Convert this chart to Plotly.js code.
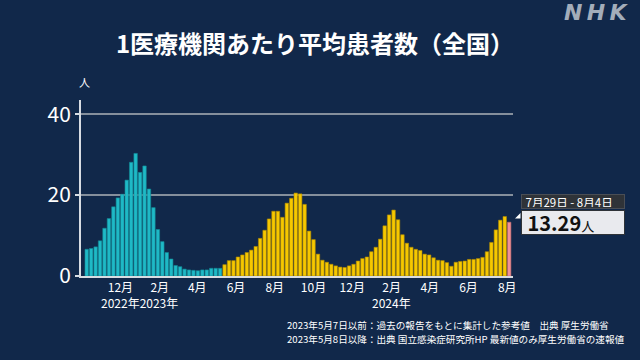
<!DOCTYPE html>
<html>
<head>
<meta charset="utf-8">
<script src="https://cdn.plot.ly/plotly-3.0.1.min.js"></script>
<style>html,body{margin:0;padding:0;background:#11284a;}#chart{width:640px;height:360px;}</style>
</head>
<body>
<div id="chart"></div>
<script>
// Week-ending dates: first week ends 2022-10-09, weekly to 2024-08-04
const firstWeekEnd = '2022-10-09';
const weekCount = 96;

// 2023-05-07 and before: reference values (cyan)
const refValues = [6.6, 6.8, 7.2, 8.7, 11.8, 14.2, 17.1, 19.3, 20.2, 23.7, 28.1, 30.3, 25.6, 27.2, 21.5, 16.9,
  11.5, 8.5, 5.8, 4.2, 2.6, 2.3, 1.7, 1.5, 1.4, 1.3, 1.5, 1.5, 1.9, 1.9, 1.9];
// 2023-05-08 and after (yellow)
const sentinelValues = [2.8, 3.8, 3.8, 4.7, 5.2, 5.8, 6.4, 7.3, 9.3, 11.3, 14.1, 16.0, 16.0, 14.5, 18.0, 19.2,
  20.5, 20.3, 17.7, 11.1, 9.0, 5.4, 3.9, 3.4, 2.9, 2.5, 2.2, 2.1, 2.5, 2.9, 3.7, 4.3,
  4.7, 6.0, 7.1, 9.1, 12.4, 15.1, 16.3, 13.9, 10.2, 8.1, 7.1, 6.6, 6.3, 5.4, 5.2, 4.5,
  3.9, 3.8, 3.3, 2.4, 3.4, 3.6, 3.7, 4.1, 4.1, 4.3, 4.6, 6.0, 8.3, 11.4, 13.8, 14.7];
// Latest week (pink)
const latestValue = [13.29];
const latestLabel = '7月29日 - 8月4日';

const tickDates = ['2022-12-01','2023-02-01','2023-04-01','2023-06-01','2023-08-01','2023-10-01','2023-12-01',
  '2024-02-01','2024-04-01','2024-06-01','2024-08-01'];
const tickLabels = ['12月','2月','4月','6月','8月','10月','12月','2月','4月','6月','8月'];
const yearLabels = ['2022年2023年','2024年'];

const dates = [];
{
  const d0 = new Date(firstWeekEnd + 'T00:00:00Z');
  for (let i = 0; i < weekCount; i++) {
    const d = new Date(d0.getTime() + i * 7 * 86400000);
    dates.push(d.toISOString().slice(0, 10));
  }
}
const values = refValues.concat(sentinelValues, latestValue);
const colors = [], lines = [];
values.forEach((v, i) => {
  if (i < refValues.length) { colors.push('#1fb9c6'); lines.push('#138a95'); }
  else if (i < refValues.length + sentinelValues.length) { colors.push('#f6c800'); lines.push('#b08a00'); }
  else { colors.push('#f09196'); lines.push('#c06a70'); }
});

const FONT = '"Noto Sans CJK JP", "Noto Sans", sans-serif';
// pixel helpers for plot area (x 81..513, y 100..276)
const px = x => (x - 81) / 432;
const py = y => (276 - y) / 176;
const NB = '\u00a0';
const TS = '\u2009';

const trace = {
  type: 'bar', x: dates, y: values,
  width: 7 * 86400000 * 0.78,
  marker: { color: colors, line: { color: lines, width: 0.6 } },
  hoverinfo: 'skip'
};

const layout = {
  width: 640, height: 360,
  paper_bgcolor: '#11284a', plot_bgcolor: '#11284a',
  margin: { l: 81, r: 127, t: 100, b: 84 },
  showlegend: false,
  font: { family: FONT, color: '#ffffff' },
  title: {
    text: '<b>1医療機関あたり平均患者数（全国）</b>',
    font: { family: FONT, size: 24, color: '#ffffff' },
    x: 315 / 640, xanchor: 'center', xref: 'container', y: 1 - 45 / 360, yanchor: 'middle'
  },
  xaxis: {
    type: 'date', range: ['2022-09-30', '2024-08-10'],
    tickmode: 'array', tickvals: tickDates, ticktext: tickLabels,
    showgrid: false, zeroline: false,
    showline: true, linecolor: '#d8dce2', linewidth: 2,
    ticks: '', tickfont: { size: 12, color: '#ffffff', family: FONT }
  },
  yaxis: {
    range: [0, 43.5], tickvals: [0, 20, 40],
    showgrid: true, gridcolor: '#858f9c', gridwidth: 1.5,
    zeroline: false, showline: true, linecolor: '#d8dce2', linewidth: 2,
    ticks: 'outside', ticklen: 4, tickcolor: '#d8dce2', tickwidth: 1.5,
    tickfont: { size: 21, color: '#ffffff', family: FONT }
  },
  bargap: 0.2,
  shapes: [
    { type: 'path', xref: 'paper', yref: 'paper',
      path: `M ${px(515)} ${py(218.5)} L ${px(520.5)} ${py(213)} L ${px(520.5)} ${py(218.5)} Z`,
      fillcolor: '#ffffff', line: { width: 0 } }
  ],
  annotations: [
    { xref: 'paper', yref: 'paper', x: px(84), y: py(82), text: '人', showarrow: false,
      font: { size: 11, color: '#ffffff', family: FONT }, xanchor: 'center', yanchor: 'middle' },
    { xref: 'paper', yref: 'paper', x: px(139.5), y: py(302.5), text: yearLabels[0], showarrow: false,
      font: { size: 12, color: '#ffffff', family: FONT }, xanchor: 'center', yanchor: 'middle' },
    { xref: 'paper', yref: 'paper', x: px(391), y: py(302.5), text: yearLabels[1], showarrow: false,
      font: { size: 12, color: '#ffffff', family: FONT }, xanchor: 'center', yanchor: 'middle' },
    { xref: 'paper', yref: 'paper', x: px(596), y: py(12), text: '<b><i>N' + TS + 'H' + TS + 'K</i></b>', showarrow: false,
      font: { size: 22, color: '#a3adba', family: '"DejaVu Sans", sans-serif' }, xanchor: 'center', yanchor: 'middle' },
    { xref: 'paper', yref: 'paper', x: px(520.5), y: py(194), xanchor: 'left', yanchor: 'top',
      text: NB + latestLabel, showarrow: false, align: 'left', width: 100, height: 11,
      bgcolor: '#2f3338', bordercolor: '#4a4e55', borderwidth: 1, borderpad: 1,
      font: { size: 11.5, color: '#ffffff', family: FONT } },
    { xref: 'paper', yref: 'paper', x: px(520.5), y: py(209.5), xanchor: 'left', yanchor: 'top',
      text: NB + '<b>' + latestValue[0].toFixed(2) + '</b><span style="font-size:13px">人</span>',
      showarrow: false, align: 'left', width: 100, height: 21,
      bgcolor: '#e9eaee', bordercolor: '#2f3338', borderwidth: 1, borderpad: 1,
      font: { size: 20, color: '#111111', family: FONT } },
    { xref: 'paper', yref: 'paper', x: px(285), y: py(325), xanchor: 'left', yanchor: 'middle',
      text: '2023年5月7日以前：過去の報告をもとに集計した参考値　出典 厚生労働省', showarrow: false,
      font: { size: 9.6, color: '#ffffff', family: FONT } },
    { xref: 'paper', yref: 'paper', x: px(285), y: py(339), xanchor: 'left', yanchor: 'middle',
      text: '2023年5月8日以降：出典 国立感染症研究所HP 最新値のみ厚生労働省の速報値', showarrow: false,
      font: { size: 9.6, color: '#ffffff', family: FONT } }
  ]
};

Plotly.newPlot('chart', [trace], layout, { staticPlot: true, displayModeBar: false });
</script>
</body>
</html>
